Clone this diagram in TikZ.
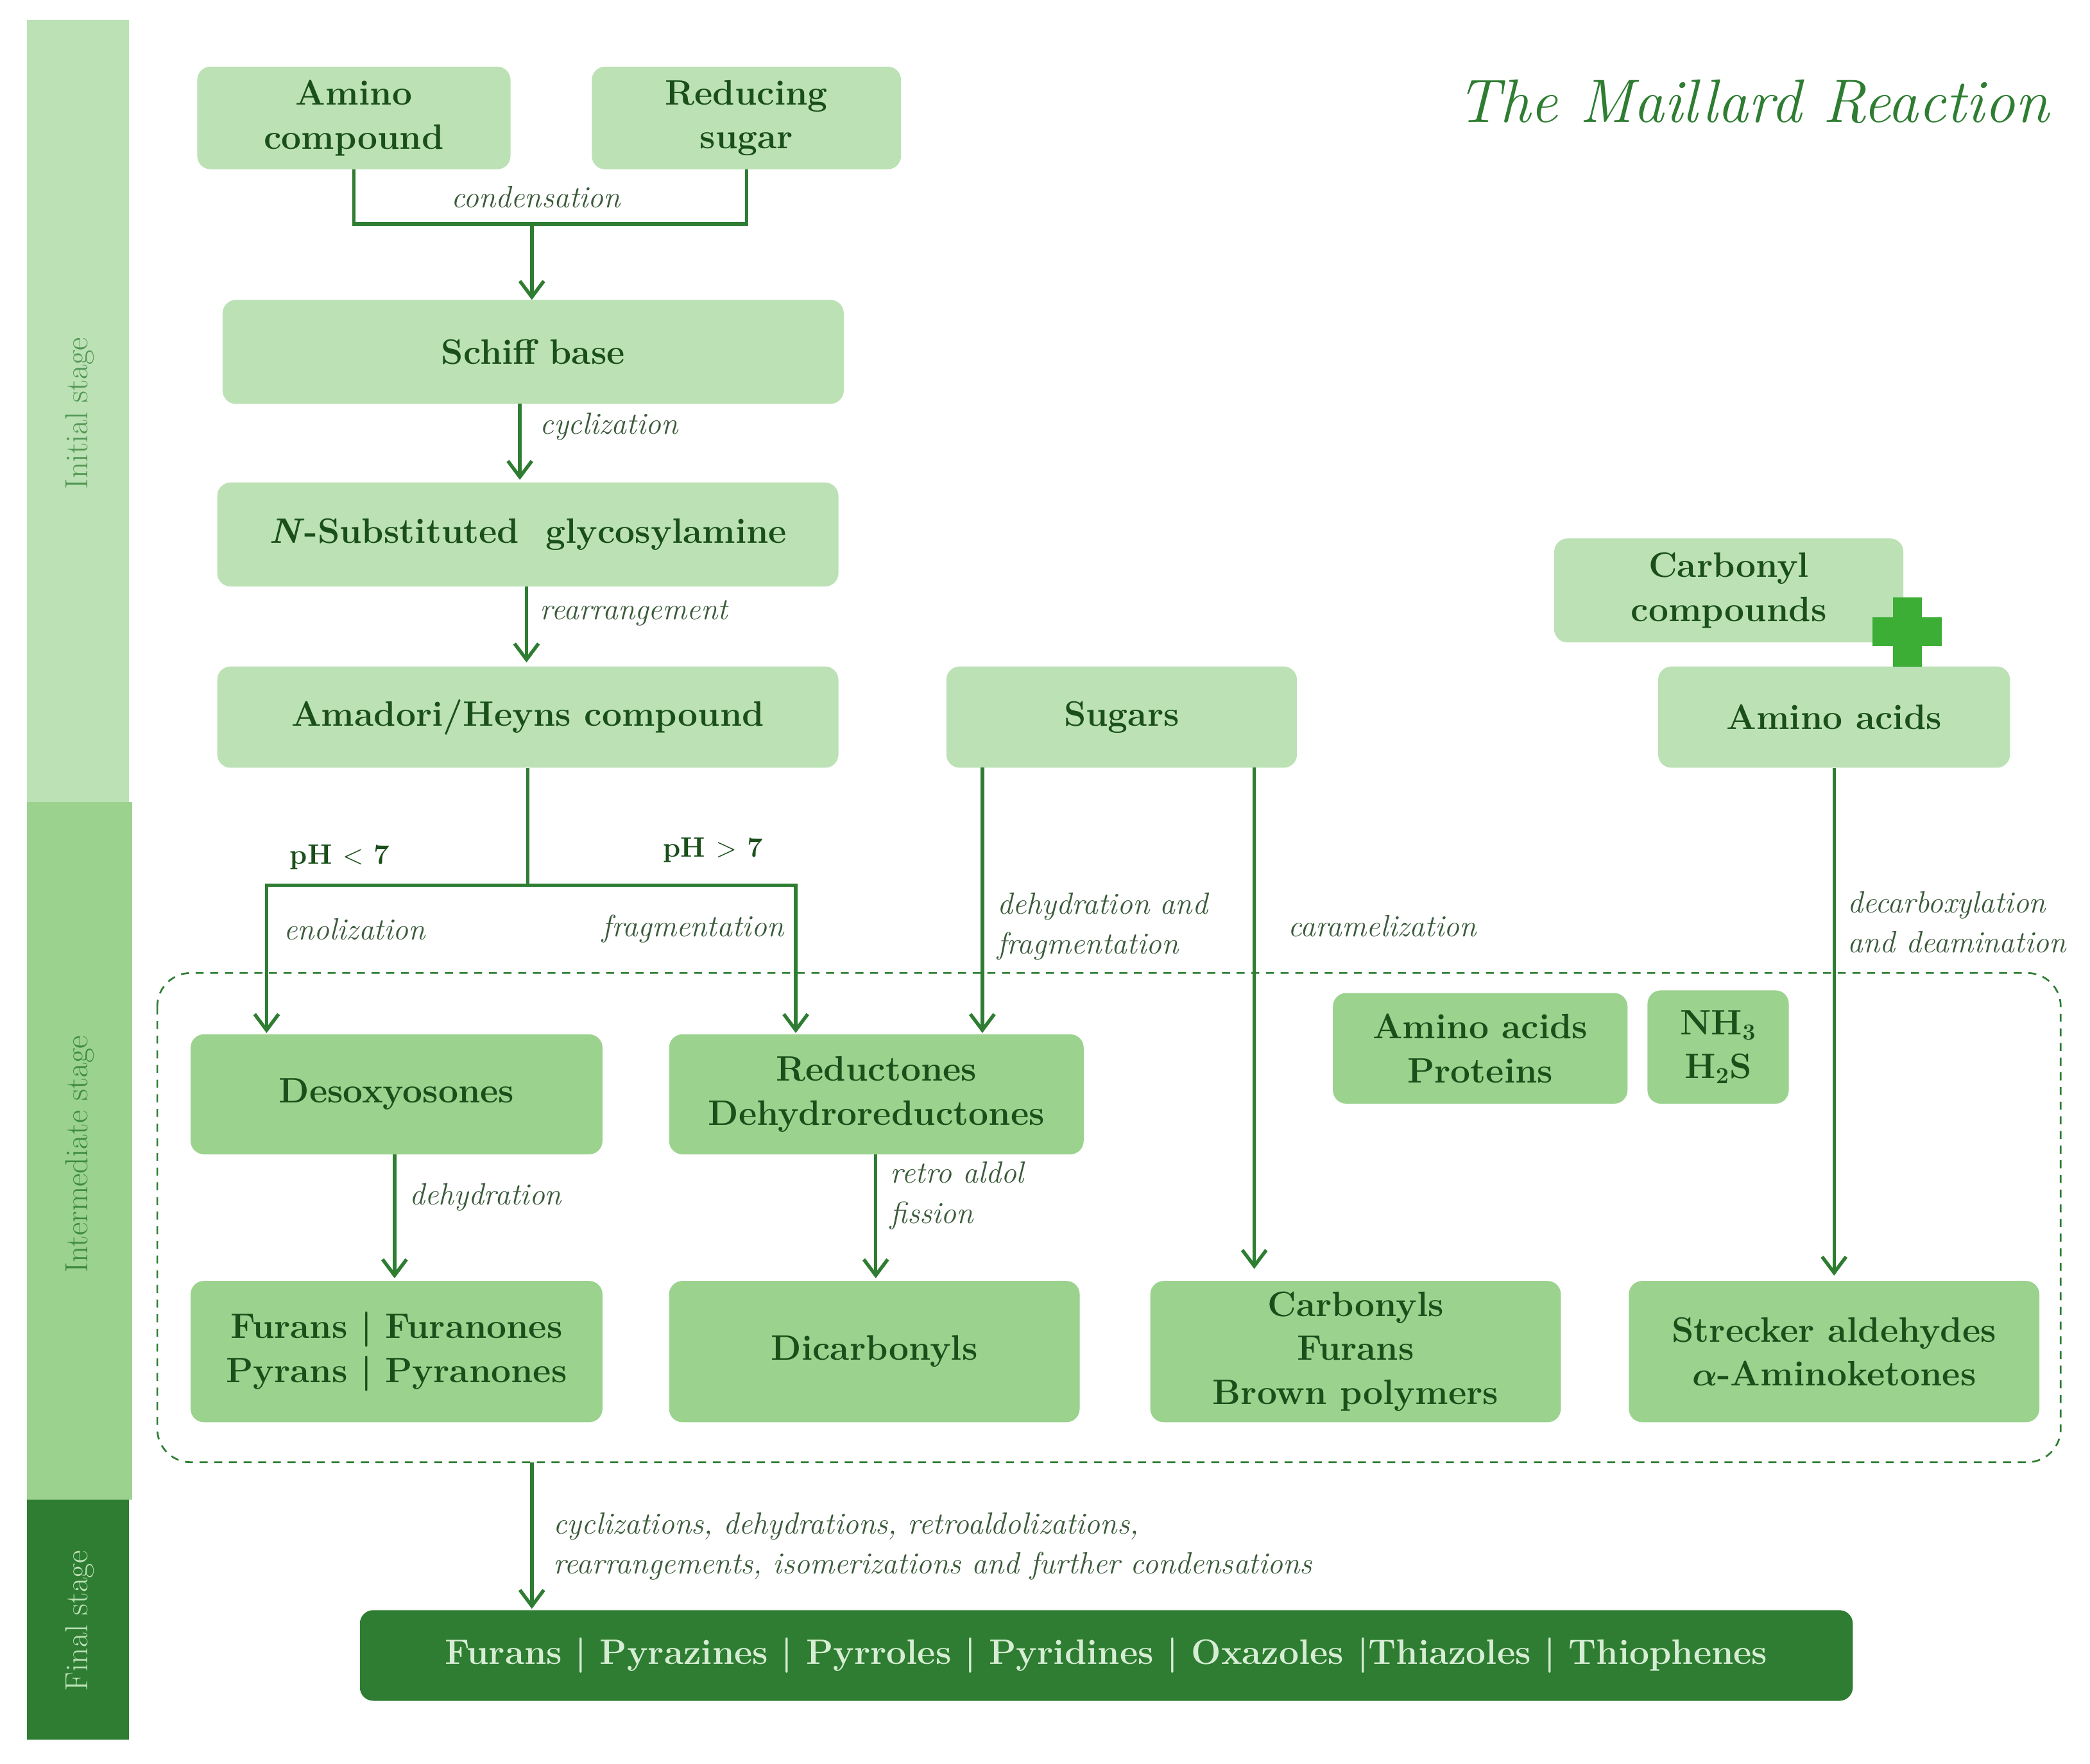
\documentclass[tikz,border=0pt]{standalone}
\usepackage{amsmath}
\usetikzlibrary{arrows.meta}
\definecolor{lg}{HTML}{BBE1B5}
\definecolor{mg}{HTML}{9AD28E}
\definecolor{dg}{HTML}{2E7D32}
\definecolor{tx}{HTML}{1A4F1A}
\definecolor{lb}{HTML}{3A5A3A}
\definecolor{pl}{HTML}{3DAE35}
\begin{document}
\begin{tikzpicture}[x=1pt,y=-1pt,
  box/.style={rounded corners=10pt,inner sep=0pt,align=center,text=tx,font=\bfseries\fontsize{26.5}{33}\selectfont},
  lbox/.style={box,fill=lg},
  mbox/.style={box,fill=mg},
  ln/.style={draw=dg,line width=2.6pt},
  arr/.style={ln,-{Straight Barb[length=12pt,width=18pt,line width=2.6pt]}},
  lab/.style={font=\itshape\fontsize{23}{30}\selectfont,text=lb,inner sep=0pt},
  stg/.style={rotate=90,font=\fontsize{24}{28}\selectfont,inner sep=0pt}]
\useasboundingbox (0,0) rectangle (1568,1323);
\fill[white] (0,0) rectangle (1568,1323);
% stage bars
\fill[lg] (20,15) rectangle (97,602);
\fill[mg] (20,602) rectangle (99,1125);
\fill[dg] (20,1125) rectangle (97,1305);
\node[stg,text=dg!75!lg] (s1) at (60,310) {Initial stage};
\node[stg,text=dg!85!mg] (s2) at (60,866) {Intermediate stage};
\node[stg,text=lg] (s3) at (60,1216) {Final stage};
% title
\node[font=\itshape\fontsize{46}{50}\selectfont,text=dg] (title) at (1315,76) {The Maillard Reaction};
% dashed region
\draw[dg,line width=1.3pt,dash pattern=on 6pt off 5pt,rounded corners=25pt] (118,730) rectangle (1546,1097);
% boxes
\node[lbox,minimum width=235pt,minimum height=77pt] (amino) at (265.5,88.5) {Amino\\compound};
\node[lbox,minimum width=232pt,minimum height=77pt] (red) at (560,88.5) {Reducing\\sugar};
\node[lbox,minimum width=466pt,minimum height=78pt] (schiff) at (400,264) {Schiff base};
\node[lbox,minimum width=466pt,minimum height=78pt] (nsub) at (396,401) {\textit{N}-Substituted\ \ glycosylamine};
\node[lbox,minimum width=466pt,minimum height=76pt] (amad) at (396,538) {Amadori/Heyns compound};
\node[lbox,minimum width=263pt,minimum height=76pt] (sug) at (841.5,538) {Sugars};
\node[lbox,minimum width=262pt,minimum height=78pt] (carb) at (1297,443) {Carbonyl\\compounds};
\node[lbox,minimum width=264pt,minimum height=76pt] (aa) at (1376,538) {Amino acids};
\node[mbox,minimum width=309pt,minimum height=90pt] (des) at (297.5,821) {Desoxyosones};
\node[mbox,minimum width=311pt,minimum height=90pt] (redu) at (657.5,821) {Reductones\\Dehydroreductones};
\node[mbox,minimum width=221pt,minimum height=83pt] (aap) at (1110.5,786.5) {Amino acids\\Proteins};
\node[mbox,minimum width=106pt,minimum height=85pt] (nh) at (1289,785.5) {NH$_\mathbf{3}$\\H$_\mathbf{2}$S};
\node[mbox,minimum width=309pt,minimum height=106pt] (fur) at (297.5,1014) {Furans\ \textbar\ Furanones\\Pyrans\ \textbar\ Pyranones};
\node[mbox,minimum width=308pt,minimum height=106pt] (dic) at (656,1014) {Dicarbonyls};
\node[mbox,minimum width=308pt,minimum height=106pt] (cbs) at (1017,1014) {Carbonyls\\Furans\\Brown polymers};
\node[mbox,minimum width=308pt,minimum height=106pt] (str) at (1376,1014) {Strecker aldehydes\\$\boldsymbol{\alpha}$-Aminoketones};
\node[box,fill=dg,text=lg!60!white,minimum width=1120pt,minimum height=68pt] (fin) at (830,1242) {Furans\ \textbar\ Pyrazines\ \textbar\ Pyrroles\ \textbar\ Pyridines\ \textbar\ Oxazoles\ \textbar Thiazoles\ \textbar\ Thiophenes};
% plus
\fill[pl] (1420,448) rectangle (1442,500);
\fill[pl] (1405,463) rectangle (1457,485);
% connectors
\coordinate (j1) at (399,168);
\draw[ln] (amino.south) |- (j1) -| (red.south);
\draw[arr] (j1) -- (399,225);
\node[lab] (l1) at (402,148) {condensation};
\draw[arr] (390,303) -- (390,360);
\node[lab,anchor=west] (l2) at (405,320) {cyclization};
\draw[arr] (395,440) -- (395,497);
\node[lab,anchor=west] (l3) at (405,460) {rearrangement};
\coordinate (j2) at (396,664);
\draw[ln] (amad.south) -- (j2);
\draw[arr] (j2) -| (200,775);
\draw[arr] (j2) -| (597,775);
\node[font=\bfseries\fontsize{21}{24}\selectfont,text=tx] (p1) at (255,643) {pH $<$ 7};
\node[font=\bfseries\fontsize{21}{24}\selectfont,text=tx] (p2) at (535,638) {pH $>$ 7};
\node[lab] (l4) at (266,697) {enolization};
\node[lab] (l5) at (520,697) {fragmentation};
\draw[arr] (737,576) -- (737,775);
\node[lab,anchor=west,align=left] (l6) at (748,695) {dehydration and\\fragmentation};
\draw[arr] (941,576) -- (941,952);
\node[lab] (l7) at (1037,695) {caramelization};
\draw[arr] (aa.south) -- (1376,957);
\node[lab,anchor=west,align=left] (l8) at (1386,692) {decarboxylation\\and deamination};
\draw[arr] (296,866) -- (296,959);
\node[lab,anchor=west] (l9) at (307,898) {dehydration};
\draw[arr] (657,866) -- (657,959);
\node[lab,anchor=west,align=left] (l10) at (668,897) {retro aldol\\fission};
\draw[arr] (399,1097) -- (399,1207);
\node[lab,anchor=west,align=left] (l11) at (415,1160) {cyclizations, dehydrations, retroaldolizations,\\rearrangements, isomerizations and further condensations};
\end{tikzpicture}
\end{document}
